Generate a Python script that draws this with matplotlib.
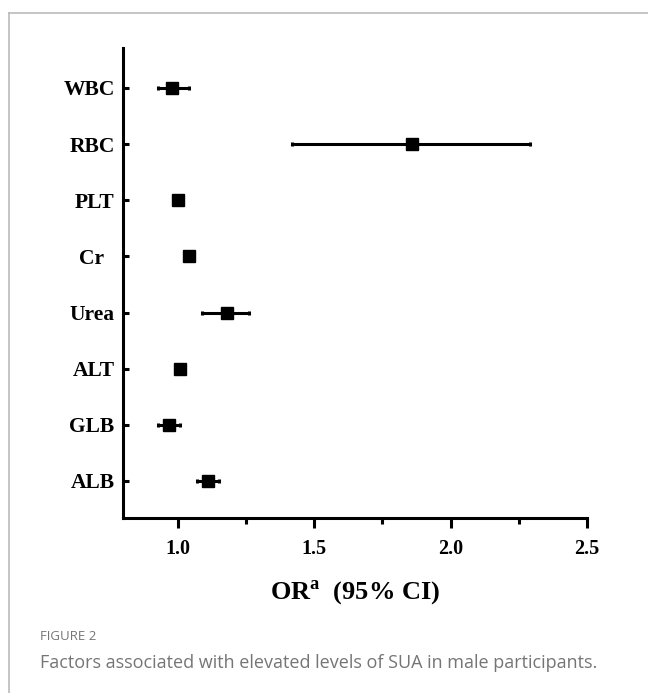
import matplotlib
matplotlib.use("Agg")
import matplotlib.pyplot as plt
from matplotlib.lines import Line2D
from matplotlib.ticker import MultipleLocator

# Data (top to bottom)
factors = ['WBC', 'RBC', 'PLT', 'Cr  ', 'Urea', 'ALT', 'GLB', 'ALB']
odds_ratio = [0.98, 1.86, 1.00, 1.04, 1.18, 1.01, 0.97, 1.11]
ci_low = [0.93, 1.42, 0.99, 1.03, 1.09, 1.00, 0.93, 1.07]
ci_high = [1.04, 2.29, 1.01, 1.05, 1.26, 1.02, 1.01, 1.15]

serif = ['Liberation Serif', 'DejaVu Serif']
plt.rcParams['mathtext.fontset'] = 'custom'
plt.rcParams['mathtext.bf'] = 'Liberation Serif:bold'
plt.rcParams['mathtext.rm'] = 'Liberation Serif:bold'

fig = plt.figure(figsize=(6.48, 6.93), dpi=100)
ax = fig.add_axes([0.1898, 0.2525, 0.7161, 0.6782])

n = len(factors)
ypos = [n - 1 - i for i in range(n)]
err = [[o - lo for o, lo in zip(odds_ratio, ci_low)],
       [hi - o for o, hi in zip(odds_ratio, ci_high)]]
ax.errorbar(odds_ratio, ypos, xerr=err, fmt='s', color='black', ms=8.5,
            elinewidth=2.2, capsize=1.2, capthick=2.2, zorder=3)

ax.set_xlim(0.8, 2.5)
ax.set_ylim(-0.66, n - 1 + 0.71)
ax.set_yticks(ypos)
ax.set_yticklabels(factors, fontfamily=serif, fontweight='bold', fontsize=15.5)
ax.xaxis.set_minor_locator(MultipleLocator(0.25))
ax.set_xticks([1.0, 1.5, 2.0, 2.5])
ax.set_xticklabels(['1.0', '1.5', '2.0', '2.5'], fontfamily=serif,
                   fontweight='bold', fontsize=14.5)

for side in ['top', 'right']:
    ax.spines[side].set_visible(False)
for side in ['left', 'bottom']:
    ax.spines[side].set_linewidth(2.2)

ax.tick_params(axis='y', direction='in', length=4.5, width=2.2, pad=6)
ax.tick_params(axis='x', which='major', direction='out', length=7, width=2.2, pad=8)
ax.tick_params(axis='x', which='minor', direction='out', length=4.5, width=2.2)

ax.set_xlabel(r'OR$^{\mathbf{a}}$  (95% CI)', fontfamily=serif, fontweight='bold',
              fontsize=19, labelpad=14)

# caption and frame
fig.text(40 / 648, 1 - 637 / 693, 'FIGURE 2', fontfamily=['Open Sans', 'DejaVu Sans'],
         fontsize=9.5, color='#757575', va='center', ha='left')
fig.text(40 / 648, 1 - 663 / 693,
         'Factors associated with elevated levels of SUA in male participants.',
         fontfamily=['Open Sans', 'DejaVu Sans'], fontsize=13, color='#757575',
         va='center', ha='left')
fig.add_artist(Line2D([8.5 / 648, 1], [1 - 12.5 / 693, 1 - 12.5 / 693],
                      transform=fig.transFigure, color='#bbbbbb', lw=1.2))
fig.add_artist(Line2D([8.5 / 648, 8.5 / 648], [0, 1 - 12.5 / 693],
                      transform=fig.transFigure, color='#bbbbbb', lw=1.2))

fig.savefig('out.png', dpi=100)
